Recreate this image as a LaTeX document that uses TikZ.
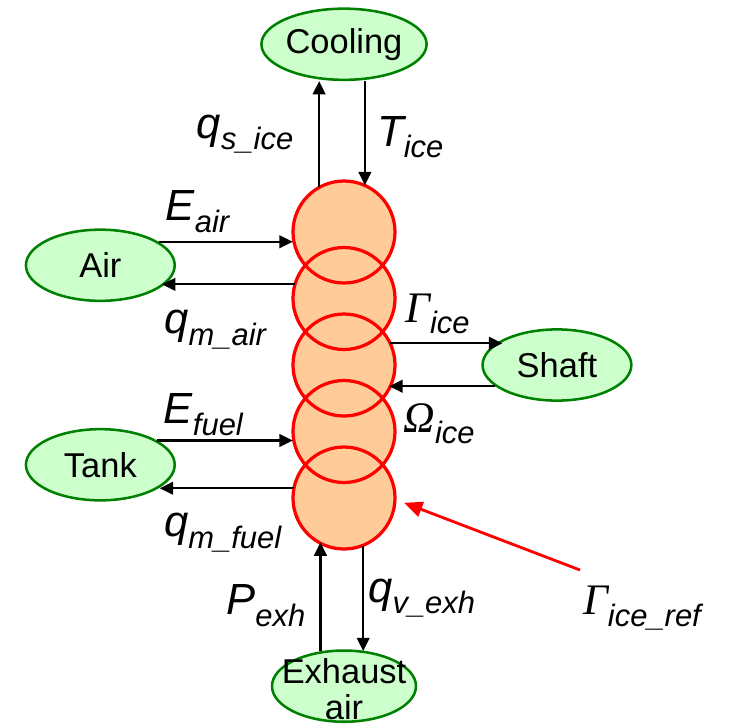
\documentclass[tikz,border=0pt]{standalone}
\usepackage{fontspec}
\setmainfont{Liberation Sans}
\newfontfamily\greekfont{Liberation Serif}
\usetikzlibrary{positioning, arrows.meta, calc, shapes.geometric}
\definecolor{ringfill}{RGB}{255,204,153}
\definecolor{leaffill}{RGB}{204,255,204}
\definecolor{leafgreen}{RGB}{0,128,0}
\newcommand{\sig}[2]{{\fontsize{31}{33}\selectfont\itshape #1}\raisebox{-0.29cm}{\fontsize{22}{24}\selectfont\itshape #2}}
\newcommand{\grk}[1]{{\greekfont #1}}

\begin{document}
\begin{tikzpicture}[node distance=1cm,
  ring/.style={circle, minimum size=2.55cm, inner sep=0pt, fill=ringfill},
  rim/.style={draw=red, line width=2.3pt},
  leaf/.style={ellipse, draw=leafgreen, line width=1.8pt, fill=leaffill, minimum width=3.72cm, minimum height=1.78cm, inner sep=0pt, font=\fontsize{24.5}{27}\selectfont},
  arr/.style={-{Triangle[length=9.5pt, width=9pt]}, line width=1.6pt},
  redarr/.style={-{Triangle[length=13pt, width=11pt]}, line width=2pt, color=red},
  sym/.style={inner sep=0pt}]
  \useasboundingbox (-8.6,-12.35) rectangle (9.825,5.8);
  % engine stack
  \foreach \i in {1,...,5}
    \node[ring] (c\i) at (0,{-(\i-1)*1.6625}) {};
  \foreach \i in {1,...,5}
    \draw[rim] (c\i) circle (1.275cm);
  \coordinate (m12) at ($(c1)!0.5!(c2)$);
  \coordinate (m45) at ($(c4)!0.5!(c5)$);
  % surrounding parts
  \node[leaf, above=2.49cm of c1] (cool) {Cooling};
  \node[leaf, left=4.2cm of m12] (air) {Air};
  \node[leaf, right=2.15cm of c3] (shaft) {Shaft};
  \node[leaf, left=4.2cm of m45] (tank) {Tank};
  \node[leaf, minimum width=3.6cm, below=2.5cm of c5,
    label={[align=center, yshift=-0.07cm, font=\fontsize{24.5}{25.5}\selectfont]center:Exhaust\\air}] (exh) {};
  % flows
  \draw[arr] (c1.119) -- node[sym, pos=0.5, left=0.62cm] {\sig{q}{s\_ice}} (c1.119 |- cool.south);
  \draw[arr] (cool.south -| c1.66) -- node[sym, pos=0.54, right=0.28cm] {\sig{T}{ice}} (c1.66);
  \draw[arr] (air.22) -- node[sym, pos=0.29, above=0.2cm] {\sig{E}{air}} (air.22 -| c1.west);
  \draw[arr] (c2.164) -- node[sym, pos=0.6, below=0.62cm] {\sig{q}{m\_air}} (c2.164 -| air.-19);
  \draw[arr] (c3.25) -- node[sym, pos=0.42, above=0.2cm] {\sig{\grk{Γ}}{ice}} (c3.25 -| shaft.155);
  \draw[arr] (shaft.199) -- node[sym, pos=0.53, below=0.4cm] {\sig{\grk{Ω}}{ice}} (shaft.199 -| c3.-28);
  \draw[arr] (tank.23) -- node[sym, pos=0.34, above=0.1cm] {\sig{E}{fuel}} (tank.23 -| c4.west);
  \draw[arr] (c5.169) -- node[sym, pos=0.53, below=0.6cm] {\sig{q}{m\_fuel}} (c5.169 -| tank.-21);
  \draw[arr] (exh.124) -- node[sym, pos=0.42, left=0.35cm] {\sig{P}{exh}} (exh.124 |- c5.240);
  \draw[arr] (c5.-68) -- node[sym, pos=0.5, right=0.1cm] {\sig{q}{v\_exh}} (c5.-68 |- exh.57);
  % reference torque
  \node[sym] (gref) at (7.45,-9.4) {\sig{\grk{Γ}}{ice\_ref}};
  \coordinate (tail) at (5.9,-8.45);
  \draw[redarr] (tail) -- ([shift={(0.22cm,-0.12cm)}]c5.east);
\end{tikzpicture}
\end{document}
